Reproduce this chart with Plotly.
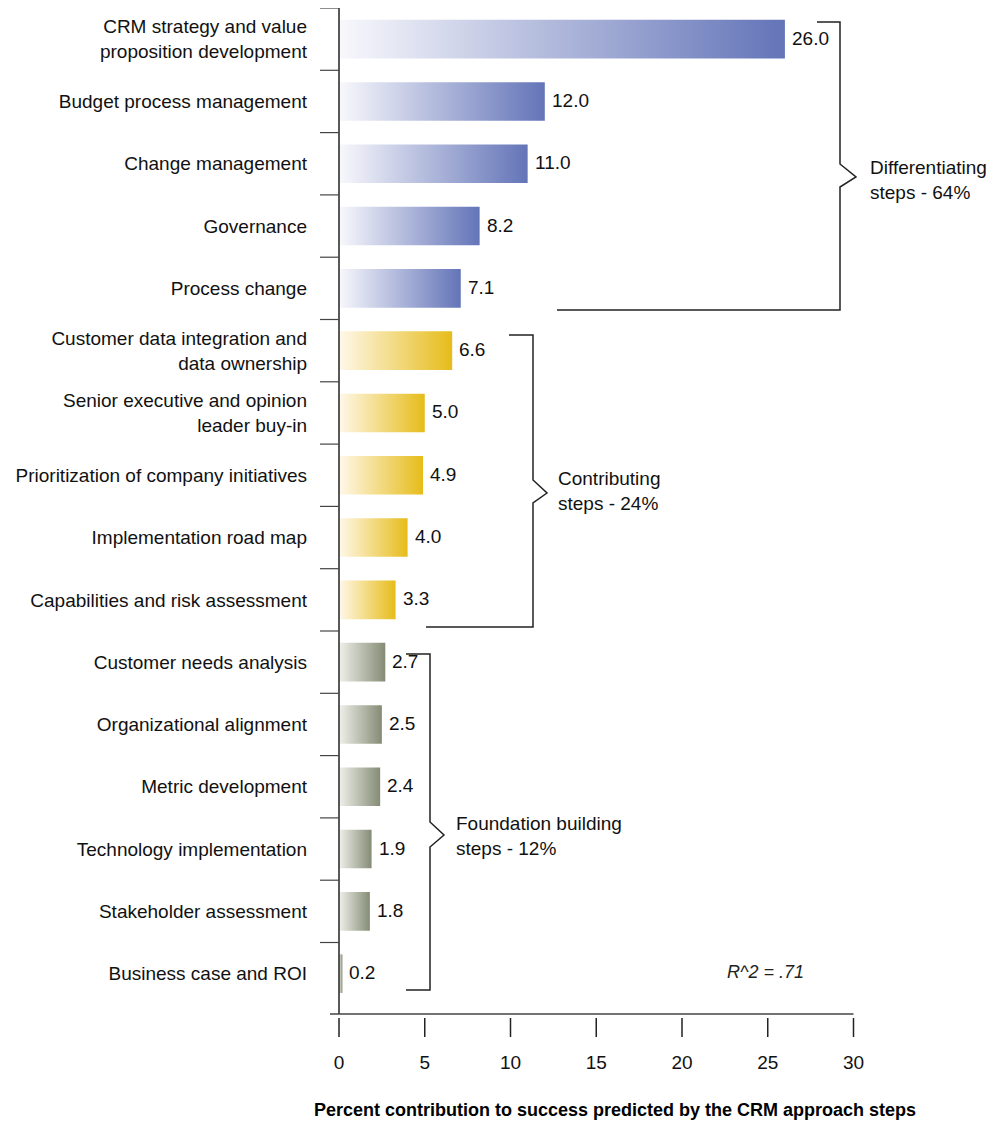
import plotly.graph_objects as go

# ---------------- data ----------------
categories = [
    "CRM strategy and value<br>proposition development",
    "Budget process management",
    "Change management",
    "Governance",
    "Process change",
    "Customer data integration and<br>data ownership",
    "Senior executive and opinion<br>leader buy-in",
    "Prioritization of company initiatives",
    "Implementation road map",
    "Capabilities and risk assessment",
    "Customer needs analysis",
    "Organizational alignment",
    "Metric development",
    "Technology implementation",
    "Stakeholder assessment",
    "Business case and ROI",
]
values = [26.0, 12.0, 11.0, 8.2, 7.1, 6.6, 5.0, 4.9, 4.0, 3.3, 2.7, 2.5, 2.4, 1.9, 1.8, 0.2]
groups = ["diff"] * 5 + ["contrib"] * 5 + ["found"] * 6
group_labels = {
    "diff": "Differentiating<br>steps - 64%",
    "contrib": "Contributing<br>steps - 24%",
    "found": "Foundation building<br>steps - 12%",
}
x_ticks = [0, 5, 10, 15, 20, 25, 30]
x_title = "Percent contribution to success predicted by the CRM approach steps"
r2_text = "R^2 = .71"

# ---------------- style ----------------
FONT = "Liberation Sans, Arial, Helvetica, sans-serif"
FS = 19
grad = {
    "diff": ("#F8F8FC", "#6374B8"),
    "contrib": ("#FFF8EA", "#E6BC1A"),
    "found": ("#F0F0EA", "#848C75"),
}
BAR_HALF = 0.31

OFF = 8                      # default page (body) margin
W, H = 1000 - 2 * OFF, 1126 - OFF
PLOT_LEFT_PX, PLOT_TOP_PX, PLOT_BOTTOM_PX = 330, 8, 1014   # page pixels
L = PLOT_LEFT_PX - OFF
T = PLOT_TOP_PX - OFF
B = H - (PLOT_BOTTOM_PX - OFF)
R = 0
PX_PER_X = 17.15
X0_PX = 339
PX_PER_Y = 62.3
xmin = -(X0_PX - PLOT_LEFT_PX) / PX_PER_X
xmax = (OFF + W - X0_PX) / PX_PER_X
n = len(categories)
ybot = (PLOT_BOTTOM_PX - PLOT_TOP_PX) / PX_PER_Y - 0.5
plot_h = H - T - B
plot_w = W - L - R

fig = go.Figure()

# bars with horizontal gradient (one trace per bar)
for i, (v, g) in enumerate(zip(values, groups)):
    c0, c1 = grad[g]
    fig.add_trace(go.Scatter(
        x=[0, v, v, 0, 0],
        y=[i - BAR_HALF, i - BAR_HALF, i + BAR_HALF, i + BAR_HALF, i - BAR_HALF],
        mode="lines", line=dict(width=0), fill="toself",
        fillgradient=dict(type="horizontal", colorscale=[[0, c0], [1, c1]]),
        hoverinfo="skip", showlegend=False,
    ))

annotations = []
# value labels
for i, v in enumerate(values):
    annotations.append(dict(x=v, y=i, xref="x", yref="y", text=f"{v:.1f}",
                            showarrow=False, xanchor="left", yanchor="middle",
                            xshift=5, yshift=1,
                            font=dict(family=FONT, size=FS, color="#111111")))

shapes = []
# vertical axis line at x=0
shapes.append(dict(type="line", xref="x", yref="paper", x0=0, x1=0, y0=0, y1=1,
                   line=dict(color="#222222", width=1.5)))
# horizontal axis line
shapes.append(dict(type="line", xref="x", yref="paper", x0=xmin, x1=30, y0=0, y1=0,
                   line=dict(color="#444444", width=1.5)))
# x ticks (with a small gap below the axis line)
for t in x_ticks:
    shapes.append(dict(type="line", xref="x", yref="paper", x0=t, x1=t,
                       y0=-4 / plot_h, y1=-23 / plot_h,
                       line=dict(color="#222222", width=1.5)))
# category separators on the left of the axis
for i in range(n):
    shapes.append(dict(type="line", xref="paper", yref="y",
                       x0=(320 - PLOT_LEFT_PX) / plot_w, x1=(X0_PX - PLOT_LEFT_PX) / plot_w,
                       y0=i - 0.5, y1=i - 0.5,
                       line=dict(color="#444444", width=1.2)))


def px_x(p):
    return (p - X0_PX) / PX_PER_X


def px_y(p):
    return (p - PLOT_TOP_PX) / PX_PER_Y - 0.5


# brackets: (left_x_top, left_x_bottom, spine_x, tip_x, y_top, y_bottom, notch_y0, notch_tip, notch_y1)
brackets = [
    (817, 557, 840, 856, 22, 310, 164, 177, 187),
    (509, 426, 533, 547, 335, 627, 480, 493, 503),
    (406, 406, 430, 444, 654, 990, 822, 835, 847),
]
for (lt, lb, sx, tx, yt, yb, n0, nt, n1) in brackets:
    pts = [(lt, yt), (sx, yt), (sx, n0), (tx, nt), (sx, n1), (sx, yb), (lb, yb)]
    path = "M " + " L ".join(f"{px_x(a):.4f},{px_y(b):.4f}" for a, b in pts)
    shapes.append(dict(type="path", xref="x", yref="y", path=path,
                       line=dict(color="#222222", width=1.5)))

label_pos = {"diff": (868, 180), "contrib": (556, 491), "found": (454, 836)}
for g, (lx, ly) in label_pos.items():
    annotations.append(dict(x=px_x(lx), y=px_y(ly), xref="x", yref="y",
                            text=group_labels[g], showarrow=False,
                            xanchor="left", yanchor="middle", align="left",
                            font=dict(family=FONT, size=FS, color="#111111")))
annotations.append(dict(x=px_x(765), y=px_y(972), xref="x", yref="y",
                        text=f"<i>{r2_text}</i>", showarrow=False,
                        xanchor="center", yanchor="middle",
                        font=dict(family=FONT, size=18, color="#222222")))
annotations.append(dict(x=(615 - PLOT_LEFT_PX) / plot_w,
                        y=-(1110 - PLOT_BOTTOM_PX) / plot_h,
                        xref="paper", yref="paper", text=f"<b>{x_title}</b>",
                        showarrow=False, xanchor="center", yanchor="middle",
                        font=dict(family=FONT, size=18, color="#000000")))

fig.update_layout(
    width=W, height=H,
    margin=dict(l=L, r=R, t=T, b=B, pad=0),
    paper_bgcolor="white", plot_bgcolor="white",
    shapes=shapes, annotations=annotations,
    showlegend=False,
    xaxis=dict(range=[xmin, xmax], tickvals=x_ticks, ticktext=[str(t) for t in x_ticks],
               ticks="", showgrid=False, zeroline=False, showline=False,
               automargin=False, ticklabelstandoff=35,
               tickfont=dict(family=FONT, size=FS, color="#111111")),
    yaxis=dict(range=[ybot, -0.5], tickvals=list(range(n)), ticktext=categories,
               ticks="", showgrid=False, zeroline=False, showline=False,
               automargin=False, ticklabelstandoff=22,
               tickfont=dict(family=FONT, size=FS, color="#111111")),
)

fig.write_html("out.html")
